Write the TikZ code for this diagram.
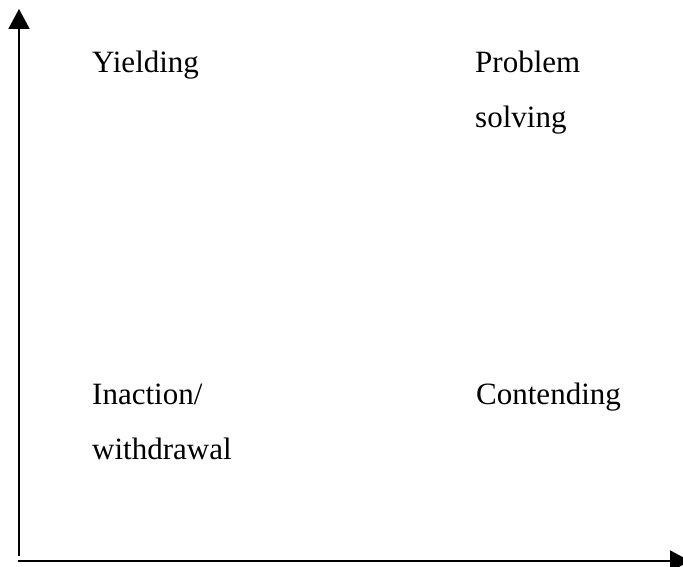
\documentclass[tikz,border=0pt]{standalone}
\usepackage{fontspec}
\setmainfont{Liberation Serif}
\usetikzlibrary{arrows.meta}
\begin{document}
\begin{tikzpicture}[x=1pt,y=1pt,
  axis/.style={line width=2pt,-{Triangle[width=21pt,length=20pt]}},
  label/.style={anchor=base west,inner sep=0pt,font=\fontsize{31}{37}\selectfont}]
\useasboundingbox (0,0) rectangle (683,567);
\clip (0,0) rectangle (683,567);
% axes
\coordinate (vstart) at (19,11);
\coordinate (vend) at (19,558);
\coordinate (hstart) at (18,6);
\coordinate (hend) at (690,6);
\draw[axis] (vstart) -- (vend);
\draw[axis] (hstart) -- (hend);
% quadrant labels
\node[label] (yield) at (92,494) {Yielding};
\node[label] (prob1) at (475,494) {Problem};
\node[label] (prob2) at (475,439) {solving};
\node[label] (inact1) at (92,162) {Inaction/};
\node[label] (inact2) at (92,107) {withdrawal};
\node[label] (cont) at (476,162) {Contending};
\end{tikzpicture}
\end{document}
